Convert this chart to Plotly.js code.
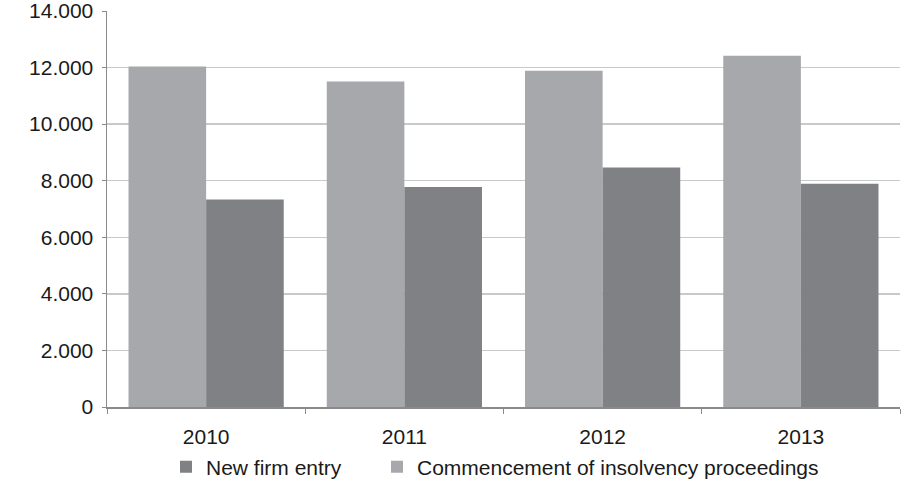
<!DOCTYPE html>
<html>
<head>
<meta charset="utf-8">
<script src="https://cdn.plot.ly/plotly-3.0.1.min.js"></script>
<style>html,body{margin:0;padding:0;background:#fff;}#chart{width:912px;height:482px;}</style>
</head>
<body>
<div id="chart"></div>
<script>
const years = ['2010', '2011', '2012', '2013'];
const newFirmEntry = [7340, 7780, 8470, 7890];
const insolvency = [12040, 11510, 11890, 12420];
const yTicks = [0, 2000, 4000, 6000, 8000, 10000, 12000, 14000];

const traces = [
  {
    type: 'bar', name: 'Commencement of insolvency proceedings',
    x: years, y: insolvency, legend: 'legend2',
    marker: {color: '#a7a8ab', line: {width: 0}},
    hoverinfo: 'skip'
  },
  {
    type: 'bar', name: 'New firm entry',
    x: years, y: newFirmEntry, legend: 'legend',
    marker: {color: '#808184', line: {width: 0}},
    hoverinfo: 'skip'
  }
];

const font = {family: '"Liberation Sans", Arial, sans-serif', size: 21, color: '#1a1a1a'};

const legendBase = {
  orientation: 'h',
  xref: 'container', yref: 'container',
  xanchor: 'left', y: 1 - 467 / 482, yanchor: 'middle',
  font: font, bgcolor: 'rgba(0,0,0,0)', borderwidth: 0,
  itemclick: false, itemdoubleclick: false
};

const layout = {
  width: 912, height: 482,
  margin: {l: 107, r: 12, t: 11, b: 74.5, pad: 0, autoexpand: false},
  paper_bgcolor: '#ffffff', plot_bgcolor: '#ffffff',
  separators: ',.',
  font: font,
  barmode: 'group',
  bargap: 0.217, bargroupgap: 0,
  showlegend: true,
  legend: Object.assign({}, legendBase, {x: 166 / 912}),
  legend2: Object.assign({}, legendBase, {x: 377 / 912}),
  xaxis: {
    type: 'category',
    showgrid: false, zeroline: false,
    showline: true, linecolor: '#8a8a8a', linewidth: 1.5,
    ticks: 'outside', tickson: 'boundaries', ticklen: 5, tickcolor: '#8a8a8a', tickwidth: 1,
    ticklabelstandoff: 10,
    tickfont: font, fixedrange: true
  },
  yaxis: {
    range: [0, 14000], tickvals: yTicks, tickformat: ',d',
    showgrid: true, gridcolor: '#c9c9c9', gridwidth: 1.5,
    zeroline: false,
    showline: true, linecolor: '#8a8a8a', linewidth: 1.5,
    ticks: 'outside', ticklen: 4, tickcolor: '#8a8a8a', tickwidth: 1,
    ticklabelstandoff: 4, ticklabeloverflow: 'allow',
    tickfont: font, fixedrange: true
  }
};

Plotly.newPlot('chart', traces, layout, {staticPlot: true, displayModeBar: false});
</script>
</body>
</html>
